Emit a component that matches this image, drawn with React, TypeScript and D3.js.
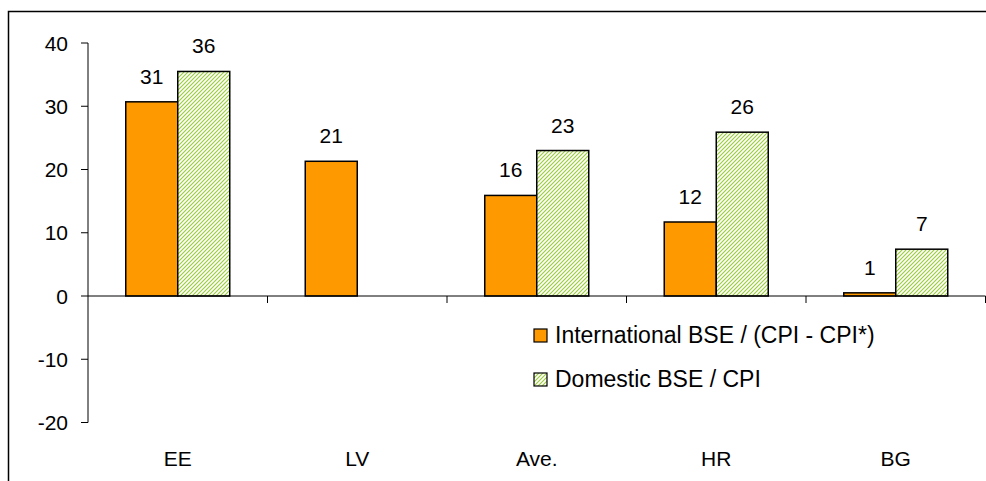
import React from "react";
import * as d3 from "d3";

const categories = ["EE", "LV", "Ave.", "HR", "BG"];
const international: (number | null)[] = [30.7, 21.3, 15.9, 11.7, 0.5];
const domestic: (number | null)[] = [35.5, null, 23.0, 25.9, 7.4];
const intLabels = ["31", "21", "16", "12", "1"];
const domLabels = ["36", "", "23", "26", "7"];
const yTicks = [-20, -10, 0, 10, 20, 30, 40];
const seriesNames = ["International BSE / (CPI - CPI*)", "Domestic BSE / CPI"];

export default function App() {
  const W = 986, H = 481;
  const x = d3.scaleBand<string>().domain(categories).range([88, 985.5]).paddingInner(0).paddingOuter(0);
  const y = d3.scaleLinear().domain([-20, 40]).range([422.5, 43]);
  const bw = 52;
  const font = "'Liberation Sans', Arial, sans-serif";
  const orange = "#ff9900";
  const green = "#99cc33";
  const fs = 21;

  return (
    <svg width={W} height={H} style={{ position: "absolute", left: 0, top: 0 }} fontFamily={font}>
      <defs>
        <pattern id="hatch" patternUnits="userSpaceOnUse" width="4" height="4">
          <rect width="4" height="4" fill="#fff" />
          <path d="M-1,1 l2,-2 M0,4 l4,-4 M3,5 l2,-2" stroke={green} strokeWidth="1.1" />
        </pattern>
      </defs>
      <rect x={0} y={0} width={W} height={H} fill="#fff" />
      {/* outer frame */}
      <path d={`M8.5,${H} V11.5 H${W}`} fill="none" stroke="#000" strokeWidth={1.5} />
      {/* bars */}
      {categories.map((c, i) => {
        const cx = x(c)! + x.bandwidth() / 2;
        const a = international[i];
        const b = domestic[i];
        return (
          <g key={c}>
            {a != null && (
              <rect x={cx - bw} y={Math.min(y(a), y(0))} width={bw} height={Math.abs(y(0) - y(a))}
                fill={orange} stroke="#000" strokeWidth={1.5} />
            )}
            {b != null && (
              <rect x={cx} y={Math.min(y(b), y(0))} width={bw} height={Math.abs(y(0) - y(b))}
                fill="url(#hatch)" stroke="#000" strokeWidth={1.5} />
            )}
            {a != null && (
              <text x={cx - bw / 2} y={y(a) - 18} textAnchor="middle" fontSize={fs}>{intLabels[i]}</text>
            )}
            {b != null && (
              <text x={cx + bw / 2} y={y(b) - 18} textAnchor="middle" fontSize={fs}>{domLabels[i]}</text>
            )}
            <text x={cx} y={466} textAnchor="middle" fontSize={fs}>{c}</text>
          </g>
        );
      })}
      {/* y axis */}
      <line x1={88} x2={88} y1={y(40)} y2={y(-20)} stroke="#000" strokeWidth={1} />
      {yTicks.map((t) => (
        <g key={t}>
          <line x1={81} x2={88} y1={y(t)} y2={y(t)} stroke="#000" strokeWidth={1} />
          <text x={68} y={y(t) + 7.5} textAnchor="end" fontSize={fs}>{t}</text>
        </g>
      ))}
      {/* x axis */}
      <line x1={88} x2={985.5} y1={y(0)} y2={y(0)} stroke="#000" strokeWidth={1} />
      {categories.map((c) => (
        <line key={c} x1={x(c)! + x.bandwidth()} x2={x(c)! + x.bandwidth()} y1={y(0)} y2={y(0) + 7} stroke="#000" strokeWidth={1} />
      ))}
      {/* legend */}
      <rect x={534} y={329} width={13} height={13} fill={orange} stroke="#000" strokeWidth={1.2} />
      <text x={555} y={343} fontSize={23}>{seriesNames[0]}</text>
      <rect x={534} y={373} width={13} height={13} fill="url(#hatch)" stroke="#000" strokeWidth={1.2} />
      <text x={555} y={387} fontSize={23}>{seriesNames[1]}</text>
    </svg>
  );
}
